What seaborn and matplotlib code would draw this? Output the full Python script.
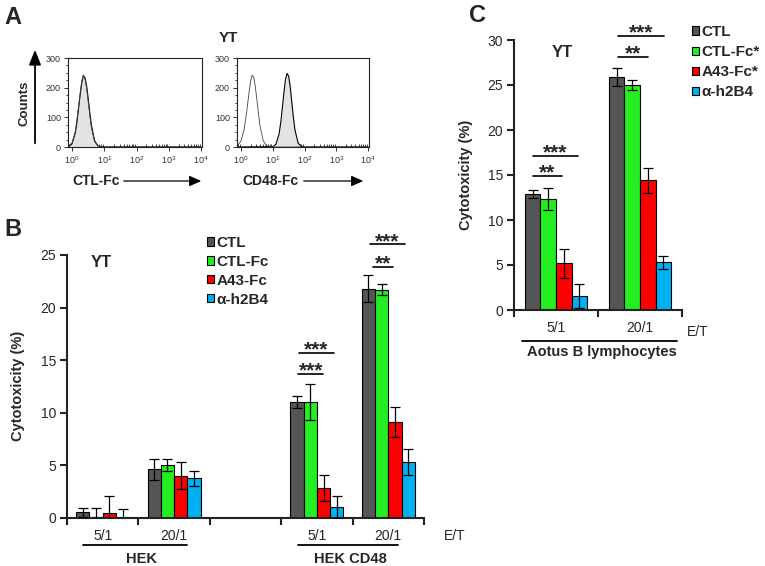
import numpy as np
import pandas as pd
import matplotlib
matplotlib.use("Agg")
import matplotlib.pyplot as plt
import matplotlib.colors as mcolors
import matplotlib.transforms as mtrans
from matplotlib.patches import FancyArrowPatch
from matplotlib.ticker import LogLocator, NullFormatter, MultipleLocator
import seaborn as sns

# ---------------- data ----------------
# panel A: flow cytometry histograms of YT cells (fluorescence, log scale, vs counts)
fl_low = [0.63, 0.79, 1.0, 1.26, 1.41, 1.58, 1.78, 2.0, 2.24, 2.51, 2.82,
          3.16, 3.55, 3.98, 5.01, 6.31, 7.94, 10.0, 10000]
ctl_fill = [0, 2, 11, 47, 81, 126, 174, 215, 240, 234, 208, 165, 117, 74, 21, 4, 1, 0, 0]
ctl_open = [0, 3, 14, 52, 88, 133, 180, 222, 243, 230, 200, 155, 108, 66, 18, 4, 1, 0, 0]
cd48_open = [0, 5, 20, 60, 95, 135, 180, 222, 242, 236, 205, 160, 112, 70, 22, 5, 1, 0, 0]
fl_high = [0.63, 10.0, 12.6, 15.8, 17.8, 20.0, 22.4, 25.1, 28.2, 31.6, 35.5,
           39.8, 44.7, 50.1, 63.1, 79.4, 100, 10000]
cd48_fill = [0, 1, 9, 44, 81, 130, 182, 227, 248, 239, 203, 151, 99, 57, 13, 2, 0, 0]

# panel B: cytotoxicity of YT against HEK / HEK CD48
groups_b = ["HEK 5/1", "HEK 20/1", "HEK CD48 5/1", "HEK CD48 20/1"]
order_b = ["HEK 5/1", "HEK 20/1", "gap", "HEK CD48 5/1", "HEK CD48 20/1"]
ticks_b = ["5/1", "20/1", "", "5/1", "20/1"]
treat_b = ["CTL", "CTL-Fc", "A43-Fc", "α-h2B4"]
ctl_b = [0.5, 4.6, 11.0, 21.8]
ctlfc_b = [0.05, 5.0, 11.0, 21.7]
a43_b = [0.45, 4.0, 2.8, 9.1]
h2b4_b = [0.05, 3.75, 1.0, 5.3]
ctl_b_err = [0.4, 1.0, 0.6, 1.3]
ctlfc_b_err = [0.9, 0.6, 1.7, 0.55]
a43_b_err = [1.6, 1.3, 1.25, 1.4]
h2b4_b_err = [0.75, 0.7, 1.05, 1.2]

# panel C: cytotoxicity of YT against Aotus B lymphocytes
groups_c = ["5/1", "20/1"]
treat_c = ["CTL", "CTL-Fc*", "A43-Fc*", "α-h2B4"]
ctl_c = [12.9, 25.85]
ctlfc_c = [12.35, 25.0]
a43_c = [5.2, 14.4]
h2b4_c = [1.55, 5.3]
ctl_c_err = [0.45, 1.0]
ctlfc_c_err = [1.25, 0.55]
a43_c_err = [1.6, 1.35]
h2b4_c_err = [1.3, 0.7]

colors = ["#555555", "#22ee22", "#ff0000", "#00b0f0"]

# ---------------- style ----------------
sns.set_style("ticks")
plt.rcParams['font.family'] = ['Liberation Sans', 'DejaVu Sans']

fig = plt.figure(figsize=(7.65, 5.66), dpi=100)


def fx(px):
    return px / 765


def fy(py):
    return 1 - py / 566


def axes_px(x0, y0, x1, y1):
    return fig.add_axes([fx(x0), fy(y1), (x1 - x0) / 765, (y1 - y0) / 566])


# ---------------- panel A ----------------
ax_h1 = axes_px(68, 58, 202, 147)
ax_h2 = axes_px(237, 58, 369, 147)

ax_h1.fill_between(fl_low, ctl_fill, color="#e3e3e3", lw=0)
sns.lineplot(x=fl_low, y=ctl_fill, ax=ax_h1, color="black", lw=0.8)
sns.lineplot(x=fl_low, y=ctl_open, ax=ax_h1, color="#444444", lw=0.6)

ax_h2.fill_between(fl_high, cd48_fill, color="#e3e3e3", lw=0)
sns.lineplot(x=fl_high, y=cd48_fill, ax=ax_h2, color="black", lw=0.8)
sns.lineplot(x=fl_low, y=cd48_open, ax=ax_h2, color="#444444", lw=0.6)

for ax in (ax_h1, ax_h2):
    ax.set_xscale("log")
    ax.set_xlim(0.75, 1.07e4)
    ax.set_ylim(0, 300)
    ax.set_yticks([0, 100, 200, 300])
    ax.yaxis.set_minor_locator(MultipleLocator(25))
    ax.xaxis.set_major_locator(LogLocator(base=10, numticks=10))
    ax.xaxis.set_minor_locator(LogLocator(base=10, subs=np.arange(2, 10), numticks=10))
    ax.xaxis.set_minor_formatter(NullFormatter())
    ax.tick_params(axis="both", which="major", labelsize=6.5, length=3, width=0.7,
                   pad=2, colors="#333333")
    ax.tick_params(axis="x", which="minor", direction="in", length=2.5, width=0.6)
    ax.tick_params(axis="y", which="minor", length=1.5, width=0.6)
    for s in ax.spines.values():
        s.set_linewidth(0.8)
        s.set_color("#222222")
    ax.set_xlabel("")
    ax.set_ylabel("")

fig.text(fx(13), fy(17), "A", fontsize=17, fontweight="bold", ha="center", va="center")
fig.text(fx(228), fy(38), "YT", fontsize=11, fontweight="bold", ha="center", va="center")
fig.text(fx(24), fy(103), "Counts", fontsize=9.5, fontweight="bold", rotation=90,
         ha="center", va="center")
fig.add_artist(FancyArrowPatch((fx(35), fy(146)), (fx(35), fy(47)), transform=fig.transFigure,
                               arrowstyle="-|>,head_length=0.45,head_width=0.18",
                               mutation_scale=20, lw=1.3, color="black"))
fig.text(fx(72), fy(181), "CTL-Fc", fontsize=10, fontweight="bold", ha="left", va="center")
fig.add_artist(FancyArrowPatch((fx(121), fy(181)), (fx(204), fy(181)), transform=fig.transFigure,
                               arrowstyle="-|>,head_length=0.45,head_width=0.2",
                               mutation_scale=16, lw=0.9, color="black"))
fig.text(fx(242), fy(181), "CD48-Fc", fontsize=10, fontweight="bold", ha="left", va="center")
fig.add_artist(FancyArrowPatch((fx(301), fy(181)), (fx(366), fy(181)), transform=fig.transFigure,
                               arrowstyle="-|>,head_length=0.45,head_width=0.2",
                               mutation_scale=16, lw=0.9, color="black"))


# ---------------- bar panels ----------------
def make_table(groups, treats, vals, errs):
    rows = []
    for t, v_list, e_list in zip(treats, vals, errs):
        for g, v, e in zip(groups, v_list, e_list):
            rows.append((g, t, v, e))
    return pd.DataFrame(rows, columns=["group", "treatment", "value", "err"])


def bar_panel(ax, df, order, treats, ticklabels, ymax, ystep, legend_xy, spacing):
    sns.barplot(data=df, x="group", y="value", hue="treatment", order=order,
                hue_order=treats, palette=colors, saturation=1, width=0.74,
                edgecolor="black", linewidth=0.8, errorbar=None, ax=ax)
    # error bars on top of the bars seaborn drew (treatment found from bar colour)
    rgba = [np.array(mcolors.to_rgba(c)) for c in colors]
    lookup = {(r.group, r.treatment): r.err for r in df.itertuples()}
    xs, hs, es = [], [], []
    for bar in ax.patches:
        h = bar.get_height()
        if bar.get_width() == 0 or np.isnan(h):
            continue
        xc = bar.get_x() + bar.get_width() / 2
        g = order[int(round(xc))]
        fc = np.array(bar.get_facecolor())
        k = int(np.argmin([np.abs(fc - c).sum() for c in rgba]))
        if (g, treats[k]) not in lookup:
            continue
        xs.append(xc)
        hs.append(h)
        es.append(lookup[(g, treats[k])])
    ax.errorbar(xs, hs, yerr=es, fmt="none", ecolor="black", elinewidth=0.9,
                capsize=3.5, capthick=0.9, zorder=5)

    n = len(order)
    ax.set_xlim(-0.5, n - 0.5)
    ax.set_ylim(0, ymax)
    ax.set_yticks(np.arange(0, ymax + 0.1, ystep))
    ax.set_xticks(range(n))
    ax.set_xticklabels(ticklabels)
    ax.set_xticks(np.arange(n + 1) - 0.5, minor=True)
    ax.tick_params(axis="x", which="major", length=0, pad=8, labelsize=10)
    ax.tick_params(axis="x", which="minor", length=5, width=1.5, color="#222222")
    ax.tick_params(axis="y", which="major", length=5, width=1.5, pad=3, labelsize=10,
                   color="#222222")
    sns.despine(ax=ax)
    for s in ("left", "bottom"):
        ax.spines[s].set_linewidth(1.5)
        ax.spines[s].set_color("#222222")
    ax.set_xlabel("")
    ax.set_ylabel("Cytotoxicity (%)", fontsize=10.5, fontweight="bold")
    sns.move_legend(ax, "upper left", bbox_to_anchor=legend_xy, bbox_transform=fig.transFigure,
                    title=None, frameon=False, prop=dict(weight="bold", size=11),
                    handlelength=0.46, handleheight=0.46, handletextpad=0.15,
                    labelspacing=spacing, borderpad=0, borderaxespad=0)


def add_sig(ax, marks):
    for x0, x1, y, lab in marks:
        ax.plot([x0, x1], [y, y], color="black", lw=1.2, clip_on=False)
        ax.annotate(lab, ((x0 + x1) / 2, y), xytext=(0, -1.8), textcoords="offset points",
                    ha="center", va="baseline", fontsize=15, fontweight="bold",
                    annotation_clip=False)


def add_group_labels(ax, lines, labels, et_xy):
    trans = mtrans.blended_transform_factory(ax.transData, ax.transAxes)
    for x0, x1, y in lines:
        ax.plot([x0, x1], [y, y], transform=trans, clip_on=False, color="black", lw=1.3)
    for xc, y, name in labels:
        ax.text(xc, y, name, transform=trans, ha="center", va="center",
                fontsize=10.5, fontweight="bold")
    ax.text(et_xy[0], et_xy[1], "E/T", transform=trans, ha="center", va="center", fontsize=10)


# panel B
ax_b = axes_px(67, 255, 424, 517.7)
df_b = make_table(groups_b, treat_b, [ctl_b, ctlfc_b, a43_b, h2b4_b],
                  [ctl_b_err, ctlfc_b_err, a43_b_err, h2b4_b_err])
bar_panel(ax_b, df_b, order_b, treat_b, ticks_b, 25, 5, (fx(207), fy(236)), 0.32)
ax_b.yaxis.set_label_coords(-0.118, 0.5)
add_sig(ax_b, [(2.74, 3.09, 13.67, "***"), (2.75, 3.24, 15.67, "***"),
               (3.78, 4.06, 23.9, "**"), (3.74, 4.23, 26.0, "***")])
add_group_labels(ax_b, [(-0.276, 1.18, -0.104), (2.74, 4.13, -0.104)],
                 [(0.55, -0.157, "HEK"), (3.47, -0.157, "HEK CD48")], (4.93, -0.07))
ax_b.text(0.095, 0.973, "YT", transform=ax_b.transAxes, ha="center", va="center",
          fontsize=12, fontweight="bold")
fig.text(fx(13), fy(230), "B", fontsize=17, fontweight="bold", ha="center", va="center")

# panel C
ax_c = axes_px(514, 40, 682, 310)
df_c = make_table(groups_c, treat_c, [ctl_c, ctlfc_c, a43_c, h2b4_c],
                  [ctl_c_err, ctlfc_c_err, a43_c_err, h2b4_c_err])
bar_panel(ax_c, df_c, groups_c, treat_c, groups_c, 30, 5, (fx(692), fy(25)), 0.4)
ax_c.yaxis.set_label_coords(-0.244, 0.5)
add_sig(ax_c, [(-0.277, 0.075, 14.89, "**"), (-0.277, 0.265, 17.14, "***"),
               (0.74, 1.09, 28.14, "**"), (0.74, 1.286, 30.48, "***")])
add_group_labels(ax_c, [(-0.405, 1.44, -0.114)], [(0.55, -0.155, "Aotus B lymphocytes")],
                 (1.69, -0.083))
ax_c.text(0.29, 0.952, "YT", transform=ax_c.transAxes, ha="center", va="center",
          fontsize=12, fontweight="bold")
fig.text(fx(478), fy(15), "C", fontsize=17, fontweight="bold", ha="center", va="center")

fig.savefig("out.png", dpi=100)
